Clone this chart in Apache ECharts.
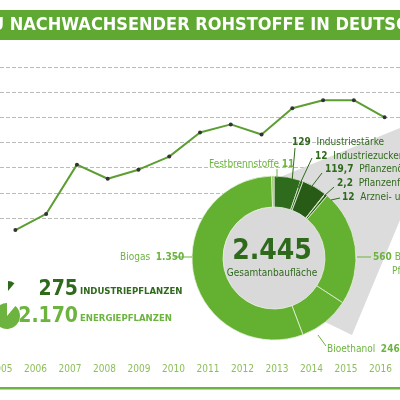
<!DOCTYPE html>
<html><head><meta charset="utf-8">
<script src="https://cdn.jsdelivr.net/npm/echarts@6/dist/echarts.min.js"></script>
<style>html,body{margin:0;padding:0;background:#fff}#c{width:400px;height:400px}</style>
</head><body><div id="c"></div>
<script>
const years = ['2005','2006','2007','2008','2009','2010','2011','2012','2013','2014','2015','2016','2017'];
const area = [1380,1540,2030,1890,1980,2110,2350,2430,2330,2590,2670,2670,2500];
const sliceNames = ['Industriestärke','Industriezucker','Pflanzenöl','Pflanzenfasern','Arznei- und Farbstoffe','Biodiesel/Pflanzenöl','Bioethanol','Biogas','Festbrennstoffe'];
const sliceValues = [129,12,119.7,2.2,12,560,246,1350,11];
const sliceColors = ['#2f6b1c','#2a6218','#285c16','#2f6b1c','#2a6218','#64b030','#64b030','#64b030','#8cc850'];

const LG = '#6cb33f', DG = '#2f6a1c', F = 'DejaVu Sans Condensed';
function t(x,y,text,size,color,weight,align){return {type:'text',x:x,y:y,z:50,style:{text:text,fontSize:size,fill:color,fontWeight:weight||'normal',fontFamily:F,textAlign:align||'left',textVerticalAlign:'middle'}};}
function rt(x,y,parts,size){
  return {type:'text',x:x,y:y,z:50,style:{text:parts.map(p=>'{'+p[1]+'|'+p[0]+'}').join(''),fontFamily:F,fontSize:size,textVerticalAlign:'middle',
   rich:{b:{fontWeight:'bold',fill:DG,fontSize:size,fontFamily:F},n:{fill:DG,fontSize:size,fontFamily:F},lb:{fontWeight:'bold',fill:LG,fontSize:size,fontFamily:F},ln:{fill:LG,fontSize:size,fontFamily:F}}}};
}
function ln(x1,y1,x2,y2,c){return {type:'line',z:40,shape:{x1:x1,y1:y1,x2:x2,y2:y2},style:{stroke:c,lineWidth:1}};}

const chart = echarts.init(document.getElementById('c'));
chart.setOption({
  animation:false,
  grid:{left:-16,right:-17,top:67,bottom:182},
  xAxis:{type:'category',data:years,boundaryGap:true,axisLine:{show:false},axisTick:{show:false},axisLabel:{show:false}},
  yAxis:{type:'value',min:1500,max:3000,interval:250,axisLabel:{show:false},axisLine:{show:false},axisTick:{show:false},
    splitLine:{lineStyle:{type:'dashed',color:'#bbbbbb',width:1}}},
  series:[
    {type:'line',data:area,clip:false,z:5,symbol:'circle',symbolSize:4,lineStyle:{color:'#5c9e32',width:2},itemStyle:{color:'#333'}},
    {type:'pie',center:[274,258],radius:[51,82],startAngle:90,clockwise:true,z:20,label:{show:false},labelLine:{show:false},
      itemStyle:{borderColor:'#e8f0e0',borderWidth:0.8},
      data:sliceNames.map((n,i)=>({name:n,value:sliceValues[i],itemStyle:{color:sliceColors[i]}}))},
    {type:'pie',center:[274,258],radius:[0,51],z:19,silent:true,label:{show:false},data:[{value:1,itemStyle:{color:'#d9d9d9'}}]}
  ],
  graphic:[
    {type:'rect',z:1,shape:{x:0,y:10,width:400,height:30},style:{fill:'#5fa832'}},
    {type:'text',x:-9,y:25,z:2,style:{text:'U NACHWACHSENDER ROHSTOFFE IN DEUTSCHLAND',fontSize:18,fontWeight:'bold',fill:'#fff',fontFamily:'DejaVu Sans Condensed',textVerticalAlign:'middle'}},
    {type:'polygon',z:3,shape:{points:[[268,182],[400,128],[400,220],[352,335],[300,310]]},style:{fill:'#dcdcdc'}},
    {type:'rect',z:3,shape:{x:0,y:355,width:400,height:45},style:{fill:'#fff'}},
    ...years.map((y,i)=>t(1+i*34.5,369,y,10,'#8cbf5a','normal','center')),
    {type:'rect',z:4,shape:{x:0,y:387,width:400,height:2.5},style:{fill:'#6cb33f'}},
    rt(292,142,[['129','b'],['  Industriestärke','n']],10),
    rt(315,156,[['12','b'],['  Industriezucker','n']],10),
    rt(325,169,[['119,7','b'],['  Pflanzenöl','n']],10),
    rt(337,183,[['2,2','b'],['  Pflanzenfasern','n']],10),
    rt(342,197,[['12','b'],['  Arznei- und Farbstoffe','n']],10),
    rt(209,164,[['Festbrennstoffe ','ln'],['11','lb']],10),
    rt(120,257,[['Biogas  ','ln'],['1.350','lb']],10),
    rt(373,257,[['560','lb'],[' Biodiesel/','ln']],10),
    t(392,271,'Pflanzenöl',10,LG),
    rt(327,349,[['Bioethanol  ','ln'],['246','lb']],10),
    ln(295,148,292,182,DG), ln(312,158,298,188,DG), ln(322,173,309,190,DG), ln(334,187,324,196,DG), ln(340,198,331,200,DG),
    ln(277,169,277,178,LG), ln(174,257,192,257,LG), ln(357,257,371,257,LG), ln(326,346,318,335,LG),
    t(272,252,'2.445',28,DG,'bold','center'),
    t(272,273,'Gesamtanbaufläche',10,'#2f6a1c','normal','center'),
    {type:'sector',z:30,shape:{cx:8,cy:291,r0:0,r:10,startAngle:-Math.PI/2,endAngle:-Math.PI/2+0.7},style:{fill:DG}},
    {type:'sector',z:30,shape:{cx:7,cy:316,r0:0,r:13,startAngle:-Math.PI/2+0.7,endAngle:Math.PI*1.5},style:{fill:LG}},
    t(78,290,'275',21,DG,'bold','right'),
    t(80,292,'INDUSTRIEPFLANZEN',9.5,DG,'bold'),
    t(78,317,'2.170',21,LG,'bold','right'),
    t(80,319,'ENERGIEPFLANZEN',9.5,LG,'bold')
  ]
});
</script></body></html>
